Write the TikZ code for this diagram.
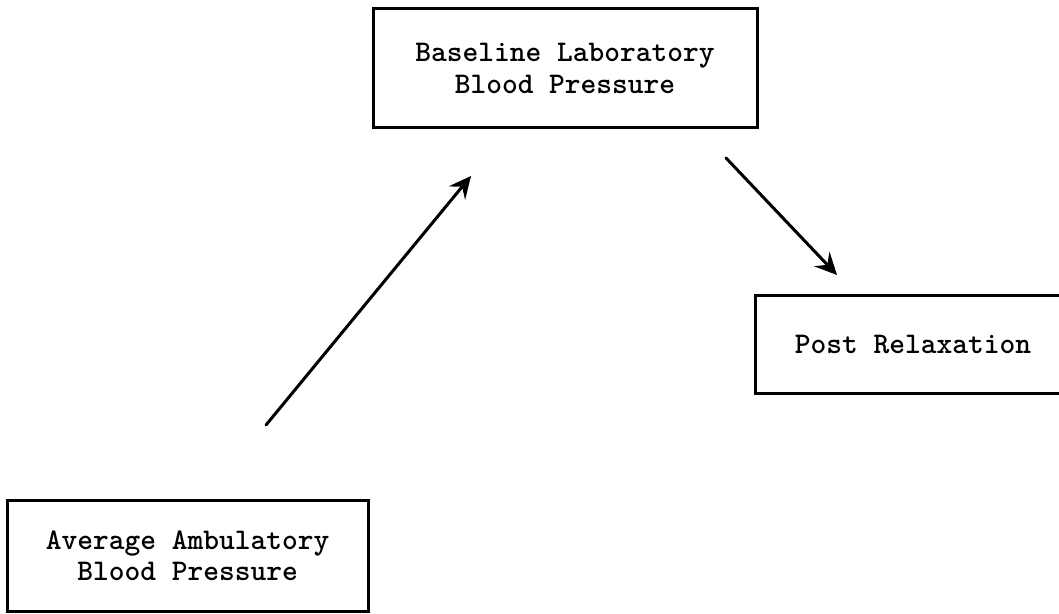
\documentclass[tikz,border=0pt]{standalone}
\usetikzlibrary{arrows.meta}
\begin{document}
\begin{tikzpicture}[x=1pt,y=1pt,
  box/.style={draw, line width=3pt, align=center, inner sep=0pt,
    font=\ttfamily\bfseries\fontsize{30}{31.5}\selectfont},
  conn/.style={line width=3pt, line cap=round,
    -{Stealth[length=22pt,width=21pt,inset=8pt]}}]
\useasboundingbox (0,0) rectangle (1059,613);
\begin{scope}
\clip (0,0) rectangle (1059,613);
\node[box, minimum width=384pt, minimum height=119pt] (base) at (565,544.5)
  {Baseline Laboratory\\Blood Pressure};
\node[box, minimum width=316pt, minimum height=98pt] (post) at (913,268)
  {Post Relaxation};
\node[box, minimum width=361pt, minimum height=111pt] (avg) at (187.5,57.5)
  {Average Ambulatory\\Blood Pressure};
\end{scope}
\coordinate (a1s) at (266,188);
\coordinate (a1e) at (471,437);
\coordinate (a2s) at (726,455);
\coordinate (a2e) at (837,338);
\draw[conn] (a1s) -- (a1e);
\draw[conn] (a2s) -- (a2e);
\end{tikzpicture}
\end{document}
